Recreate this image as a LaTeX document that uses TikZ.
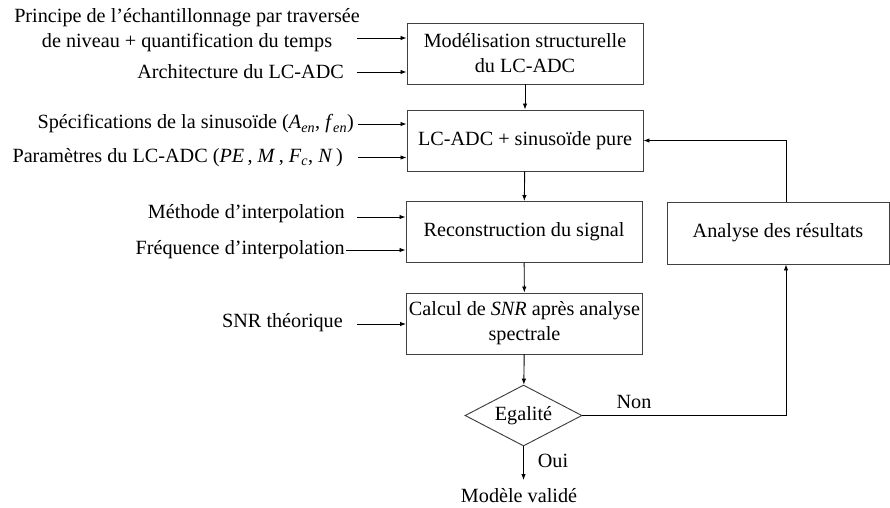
\documentclass[tikz,border=0pt]{standalone}
\usepackage{fontspec}
\setmainfont{Liberation Serif}
\usetikzlibrary{arrows.meta,shapes.geometric}

\begin{document}
\begin{tikzpicture}[x=1pt,y=-1pt,
    every node/.style={font=\fontsize{20.2}{25}\selectfont},
    bloc/.style={draw=black!75,line width=0.95pt,minimum width=236pt,minimum height=61pt,inner sep=0pt,align=center},
    test/.style={draw=black!75,line width=0.95pt,diamond,aspect=1.9,minimum width=117pt,minimum height=61pt,inner sep=0pt},
    entree/.style={anchor=east,inner sep=0pt},
    fleche/.style={line width=0.9pt,-{Latex[length=6pt,width=4.5pt]}}]
    \useasboundingbox (0,0) rectangle (890,507);

    % Blocs du flot principal
    \node[bloc] (b1) at (525,53.5) {Modélisation structurelle\\du LC-ADC};
    \node[bloc] (b2) at (525,140.5) {LC-ADC + sinusoïde pure};
    \node[bloc] (b3) at (524,232) {Reconstruction du signal};
    \node[bloc] (b4) at (524.5,323.5) {Calcul de \textit{SNR} après analyse\\spectrale};
    \node[test] (eg) at (523.5,415.5) {Egalité};
    \node[bloc,minimum width=222pt,minimum height=62pt] (an) at (778,233) {Analyse des résultats};
    \node[anchor=base,inner sep=0pt] (mv) at (519,502) {Modèle validé};

    % Entrees
    \node[align=center,inner sep=0pt] (e1) at (187,30) {Principe de l’échantillonnage par traversée\\de niveau + quantification du temps};
    \node[entree] (e2) at (344,72) {Architecture du LC-ADC};
    \node[entree] (e3) at (354,124) {Spécifications de la sinusoïde (\textit{A}\textsubscript{\textit{en}}, \textit{f}\textsubscript{\textit{en}})};
    \node[entree] (e4) at (343,157.5) {Paramètres du LC-ADC (\textit{PE}\,, \textit{M}\,, \textit{F}\textsubscript{\textit{c}}, \textit{N}\,)};
    \node[entree] (e5) at (345,214) {Méthode d’interpolation};
    \node[entree] (e6) at (345,250) {Fréquence d’interpolation};
    \node[entree] (e7) at (343,323) {SNR théorique};

    \coordinate (p1) at (357,38);
    \draw[fleche] (p1) -- (p1 -| b1.west);
    \draw[fleche] ([xshift=13pt]e2.east) -- (e2.east -| b1.west);
    \draw[fleche] ([xshift=4pt]e3.east) -- (e3.east -| b2.west);
    \draw[fleche] ([xshift=15pt]e4.east) -- (e4.east -| b2.west);
    \draw[fleche] ([xshift=12pt,yshift=-3pt]e5.east) -- ([yshift=-3pt]e5.east -| b3.west);
    \draw[fleche] ([xshift=1pt]e6.east) -- (e6.east -| b3.west);
    \draw[fleche] ([xshift=14pt,yshift=-1pt]e7.east) -- ([yshift=-1pt]e7.east -| b4.west);

    % Liaisons
    \draw[fleche] (b1) -- (b2);
    \draw[fleche] (b2) -- (b3);
    \draw[fleche] (b3) -- (b4);
    \draw[fleche] (b4) -- (eg);
    \draw[fleche] (eg.south) -- (eg.south |- 0,480);
    \node (oui) at (553,461) {Oui};

    % Boucle de retour
    \draw[fleche] (eg.east) -| ([xshift=8pt]an.south);
    \node (non) at (634,402) {Non};
    \draw[fleche] ([xshift=8pt]an.north) |- (b2.east);
\end{tikzpicture}
\end{document}
